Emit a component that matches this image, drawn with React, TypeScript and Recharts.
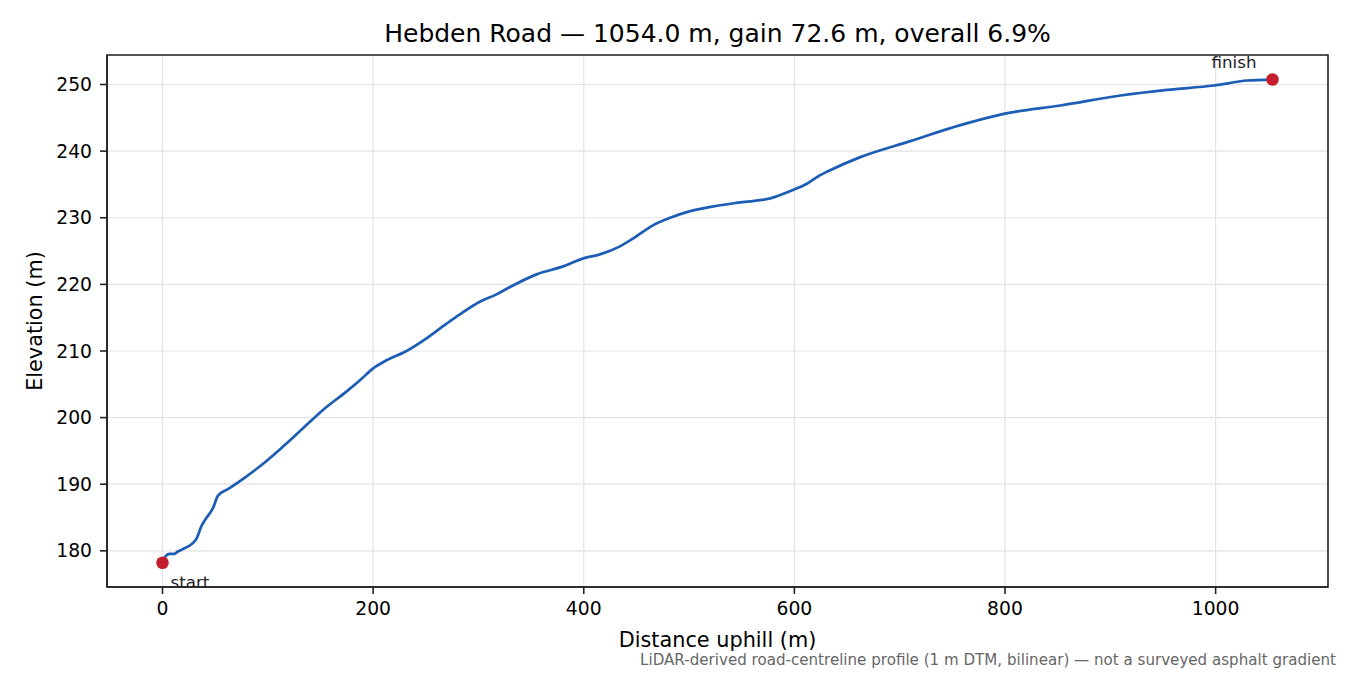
import React from 'react';
import {
  ComposedChart,
  Line,
  Scatter,
  XAxis,
  YAxis,
  CartesianGrid,
  ReferenceArea,
  Label,
} from 'recharts';

const distances = [
  0, 2, 6.7, 11.4, 14.5, 19.3, 32, 36.8, 41.5, 47.9, 52.6, 63.7, 79.5, 92.2,
  114.4, 133.4, 152.4, 174.6, 187.5, 200, 212.7, 231.7, 250.7, 269.7, 282.3,
  301.3, 317.2, 330, 355.2, 380.5, 399.6, 415.4, 434.4, 447.1, 466.1, 482,
  497.8, 523.1, 548.5, 577, 599.2, 611.9, 624.5, 630.9, 662.5, 710, 757.6,
  798.8, 852.7, 909.7, 954.1, 998.4, 1030, 1054,
];
const elevations = [
  178.2, 179.0, 179.55, 179.55, 179.9, 180.25, 181.75, 183.65, 184.9, 186.4,
  188.25, 189.4, 191.15, 192.65, 195.65, 198.4, 201.15, 203.9, 205.6, 207.4,
  208.6, 210.0, 211.9, 214.1, 215.5, 217.4, 218.5, 219.6, 221.5, 222.7, 223.9,
  224.5, 225.7, 226.9, 228.9, 230.0, 230.85, 231.7, 232.3, 232.9, 234.2, 235.1,
  236.4, 236.9, 239.1, 241.5, 243.9, 245.6, 246.85, 248.35, 249.2, 249.85,
  250.6, 250.75,
];
const xTicks = [0, 200, 400, 600, 800, 1000];
const yTicks = [180, 190, 200, 210, 220, 230, 240, 250];
const xDomain = [-52.7, 1106.7];
const yDomain = [174.57, 254.43];
const endpointNames = ['start', 'finish'];

const titleText = 'Hebden Road — 1054.0 m, gain 72.6 m, overall 6.9%';
const xLabelText = 'Distance uphill (m)';
const yLabelText = 'Elevation (m)';
const noteText =
  'LiDAR-derived road-centreline profile (1 m DTM, bilinear) — not a surveyed asphalt gradient';

const profile = distances.map((d, i) => ({ d, e: elevations[i] }));
const last = distances.length - 1;
const endpoints = [
  { d: distances[0], e: elevations[0], name: endpointNames[0] },
  { d: distances[last], e: elevations[last], name: endpointNames[1] },
];

const FONT = '"DejaVu Sans", sans-serif';
const LINE_COLOR = '#1c5db5';
const DOT_COLOR = '#c41e2e';

const EndpointShape = (props: any) => {
  const { cx, cy, payload } = props;
  if (cx == null || cy == null) return null;
  const isStart = payload.name === endpointNames[0];
  return (
    <g>
      <circle cx={cx} cy={cy} r={6.3} fill={DOT_COLOR} />
      <text
        x={isStart ? cx + 8 : cx - 16}
        y={isStart ? cy + 19 : cy - 18}
        textAnchor={isStart ? 'start' : 'end'}
        dominantBaseline="central"
        fontSize={16.7}
        fontFamily={FONT}
        fill="#222"
      >
        {payload.name}
      </text>
    </g>
  );
};

export default function App() {
  return (
    <div
      style={{
        position: 'absolute',
        left: 0,
        top: 0,
        width: 1350,
        height: 675,
        background: '#fff',
        fontFamily: FONT,
      }}
    >
      <div
        style={{
          position: 'absolute',
          left: 107,
          width: 1221,
          top: 18.5,
          textAlign: 'center',
          fontSize: 25,
          lineHeight: 'normal',
          color: '#000',
          whiteSpace: 'nowrap',
        }}
      >
        {titleText}
      </div>
      <ComposedChart
        width={1350}
        height={675}
        data={profile}
        margin={{ top: 55, right: 22, bottom: 0, left: 0 }}
      >
        <CartesianGrid stroke="#e3e3e3" strokeWidth={1.2} />
        <XAxis
          type="number"
          dataKey="d"
          domain={xDomain}
          ticks={xTicks}
          allowDataOverflow
          height={88}
          tickSize={7}
          tickMargin={8}
          tickLine={{ stroke: '#222', strokeWidth: 1.6 }}
          axisLine={{ stroke: '#222', strokeWidth: 1.6 }}
          tick={{ fontSize: 18.75, fill: '#000', fontFamily: FONT }}
        >
          <Label
            content={(p: any) => {
              const vb = p.viewBox || {};
              return (
                <text
                  x={vb.x + vb.width / 2}
                  y={vb.y + 52.5}
                  textAnchor="middle"
                  dominantBaseline="central"
                  fontSize={20.8}
                  fontFamily={FONT}
                  fill="#000"
                >
                  {xLabelText}
                </text>
              );
            }}
          />
        </XAxis>
        <YAxis
          type="number"
          domain={yDomain}
          ticks={yTicks}
          allowDataOverflow
          width={107}
          tickSize={7}
          tickMargin={8}
          tickLine={{ stroke: '#222', strokeWidth: 1.6 }}
          axisLine={{ stroke: '#222', strokeWidth: 1.6 }}
          tick={{ fontSize: 18.75, fill: '#000', fontFamily: FONT }}
        >
          <Label
            content={(p: any) => {
              const vb = p.viewBox || {};
              const cx = 35;
              const cy = vb.y + vb.height / 2;
              return (
                <text
                  x={cx}
                  y={cy}
                  transform={`rotate(-90, ${cx}, ${cy})`}
                  textAnchor="middle"
                  dominantBaseline="central"
                  fontSize={20.8}
                  fontFamily={FONT}
                  fill="#000"
                >
                  {yLabelText}
                </text>
              );
            }}
          />
        </YAxis>
        <ReferenceArea
          x1={xDomain[0]}
          x2={xDomain[1]}
          y1={yDomain[0]}
          y2={yDomain[1]}
          fill="none"
          fillOpacity={0}
          stroke="#222"
          strokeWidth={1.6}
          ifOverflow="visible"
        />
        <Line
          type="monotone"
          dataKey="e"
          stroke={LINE_COLOR}
          strokeWidth={2.7}
          dot={false}
          activeDot={false}
          isAnimationActive={false}
        />
        <Scatter
          data={endpoints}
          dataKey="e"
          shape={EndpointShape}
          isAnimationActive={false}
        />
      </ComposedChart>
      <div
        style={{
          position: 'absolute',
          right: 14,
          top: 651,
          fontSize: 15.1,
          lineHeight: 'normal',
          color: '#666',
          whiteSpace: 'nowrap',
        }}
      >
        {noteText}
      </div>
    </div>
  );
}
